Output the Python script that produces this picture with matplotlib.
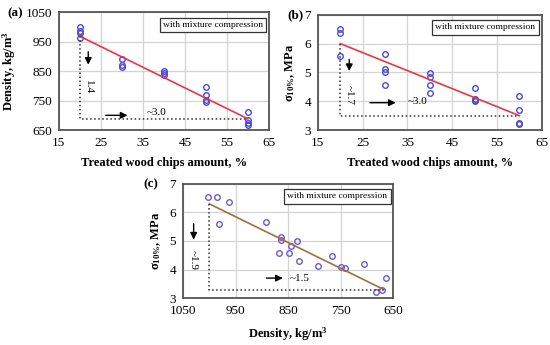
import numpy as np
import matplotlib
matplotlib.use('Agg')
from matplotlib import pyplot as plt

plt.rcParams['font.family'] = ['Liberation Serif', 'DejaVu Serif']
plt.rcParams['mathtext.fontset'] = 'custom'
plt.rcParams['mathtext.rm'] = 'Liberation Serif'
plt.rcParams['mathtext.bf'] = 'Liberation Serif:bold'
plt.rcParams['mathtext.it'] = 'Liberation Serif:italic'

# (a) density vs treated wood chips amount
chips_a = [20, 20, 20, 20, 30, 30, 30, 40, 40, 40, 50, 50, 50, 50, 60, 60, 60, 60]
density_a = [1000, 985, 978, 962, 890, 870, 863, 850, 843, 835,
             795, 768, 752, 745, 710, 685, 675, 668]
fit_a_x = [20, 60]
fit_a_y = [968, 688]

# (b) sigma10 vs treated wood chips amount
chips_b = [20, 20, 20, 30, 30, 30, 30, 40, 40, 40, 40, 50, 50, 50, 50, 60, 60, 60, 60]
sigma_b = [6.52, 6.38, 5.57, 5.63, 5.12, 5.02, 4.57, 4.97, 4.83, 4.57, 4.28,
           4.46, 4.08, 4.05, 4.02, 4.18, 3.70, 3.25, 3.20]
fit_b_x = [20, 60]
fit_b_y = [6.0, 3.5]

# (c) sigma10 vs density
density_c = [1003, 985, 962, 982, 893, 863, 863, 833, 844, 868,
             848, 830, 793, 766, 750, 741, 705, 682, 672, 663]
sigma_c = [6.55, 6.55, 6.38, 5.60, 5.65, 5.13, 5.04, 4.99, 4.82, 4.58,
           4.58, 4.30, 4.11, 4.47, 4.08, 4.05, 4.19, 3.23, 3.27, 3.71]
fit_c_x = [1000, 668]
fit_c_y = [6.3, 3.3]

fig = plt.figure(figsize=(5.5, 3.45), dpi=100)

def style(ax, xt, yt):
    ax.set_xticks(xt)
    ax.set_yticks(yt)
    ax.tick_params(length=0, labelsize=9.5, pad=5)
    ax.grid(True, color='#d4d4d4', linewidth=0.9)
    ax.set_axisbelow(True)
    for s in ax.spines.values():
        s.set_color('#555555')
        s.set_linewidth(1.3)
    ax.text(0.972, 0.925, 'with mixture compression', transform=ax.transAxes,
            ha='right', va='top', fontsize=6.8,
            bbox=dict(boxstyle='square,pad=0.35', fc='white', ec='#333333', lw=0.9))

# ---- (a)
ax1 = fig.add_axes([0.107, 0.623, 0.382, 0.342])
style(ax1, np.arange(15, 66, 10), np.arange(650, 1051, 100))
ax1.set_xlim(15, 65)
ax1.set_ylim(650, 1050)
ax1.plot(chips_a, density_a, 'o', mfc='none', mec='#4a4ad8', ms=4, mew=1.0)
ax1.plot(fit_a_x, fit_a_y, color='#ee3344', lw=1.2)
ax1.plot([fit_a_x[0], fit_a_x[0], fit_a_x[1]], [fit_a_y[0], fit_a_y[1], fit_a_y[1]],
         ':', color='#333333', lw=1.1)
ax1.annotate('', xy=(22, 862), xytext=(22, 925),
             arrowprops=dict(arrowstyle='-|>', color='black', lw=1.0))
ax1.text(22, 795, '1.4', rotation=-90, ha='center', va='center', fontsize=8)
ax1.annotate('', xy=(32, 700), xytext=(25.5, 700),
             arrowprops=dict(arrowstyle='-|>', color='black', lw=1.0))
ax1.text(36, 708, '~3.0', ha='left', va='center', fontsize=8)
ax1.set_xlabel('Treated wood chips amount, %', fontweight='bold', fontsize=9, labelpad=6)
ax1.set_ylabel('Density, kg/m$^\\mathbf{3}$', fontweight='bold', fontsize=9, labelpad=5)
fig.text(0.014, 0.962, '(a)', fontweight='bold', fontsize=9.5, va='center')

# ---- (b)
ax2 = fig.add_axes([0.578, 0.623, 0.407, 0.334])
style(ax2, np.arange(15, 66, 10), np.arange(3, 8, 1))
ax2.set_xlim(15, 65)
ax2.set_ylim(3, 7)
ax2.plot(chips_b, sigma_b, 'o', mfc='none', mec='#4a4ad8', ms=4, mew=1.0)
ax2.plot(fit_b_x, fit_b_y, color='#ee3344', lw=1.2)
ax2.plot([fit_b_x[0], fit_b_x[0], fit_b_x[1]], [fit_b_y[0], fit_b_y[1], fit_b_y[1]],
         ':', color='#333333', lw=1.1)
ax2.annotate('', xy=(22, 4.95), xytext=(22, 5.55),
             arrowprops=dict(arrowstyle='-|>', color='black', lw=1.0))
ax2.text(22, 4.2, '~1.7', rotation=-90, ha='center', va='center', fontsize=8)
ax2.annotate('', xy=(33, 3.95), xytext=(26, 3.95),
             arrowprops=dict(arrowstyle='-|>', color='black', lw=1.0))
ax2.text(35, 3.98, '~3.0', ha='left', va='center', fontsize=8)
ax2.set_xlabel('Treated wood chips amount, %', fontweight='bold', fontsize=9, labelpad=6)
ax2.set_ylabel('σ$_{\\mathbf{10\\%}}$, MPa', fontweight='bold', fontsize=9, labelpad=5)
fig.text(0.522, 0.955, '(b)', fontweight='bold', fontsize=9.5, va='center')

# ---- (c)
ax3 = fig.add_axes([0.333, 0.136, 0.382, 0.331])
style(ax3, np.arange(650, 1051, 100), np.arange(3, 8, 1))
ax3.set_xlim(1050, 650)
ax3.set_ylim(3, 7)
ax3.plot(density_c, sigma_c, 'o', mfc='none', mec='#7058dc', ms=4, mew=1.0)
ax3.plot(fit_c_x, fit_c_y, color='#a0703c', lw=1.2)
ax3.plot([fit_c_x[0], fit_c_x[0], fit_c_x[1]], [fit_c_y[0], fit_c_y[1], fit_c_y[1]],
         ':', color='#333333', lw=1.1)
ax3.annotate('', xy=(1030, 4.95), xytext=(1030, 5.7),
             arrowprops=dict(arrowstyle='-|>', color='black', lw=1.0))
ax3.text(1030, 4.35, '~1.9', rotation=-90, ha='center', va='center', fontsize=8)
ax3.annotate('', xy=(855, 3.7), xytext=(897, 3.7),
             arrowprops=dict(arrowstyle='-|>', color='black', lw=1.0))
ax3.text(848, 3.7, '~1.5', ha='left', va='center', fontsize=8)
ax3.set_xlabel('Density, kg/m$^\\mathbf{3}$', fontweight='bold', fontsize=9, labelpad=6)
ax3.set_ylabel('σ$_{\\mathbf{10\\%}}$, MPa', fontweight='bold', fontsize=9, labelpad=5)
fig.text(0.26, 0.465, '(c)', fontweight='bold', fontsize=9.5, va='center')

fig.savefig('out.png', dpi=100)
